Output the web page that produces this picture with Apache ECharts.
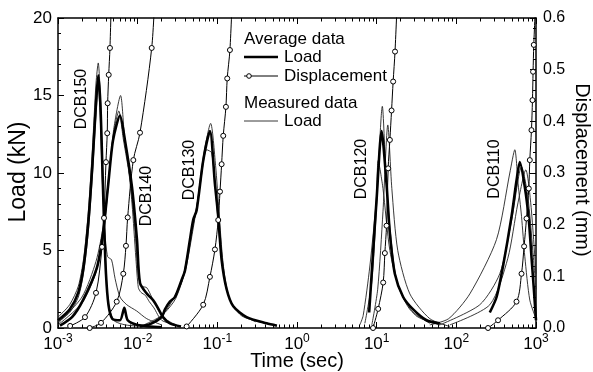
<!DOCTYPE html>
<html><head><meta charset="utf-8">
<script src="https://cdn.jsdelivr.net/npm/echarts@6/dist/echarts.min.js"></script>
<style>html,body{margin:0;padding:0;background:#fff}#c{width:593px;height:372px}</style>
</head><body><div id="c"></div>
<script>
// ---- tick values / labels ----
const xMajorTicks = [0.001, 0.01, 0.1, 1, 10, 100, 1000];
const xMinorMultipliers = [2, 3, 4, 5, 6, 7, 8, 9];
const loadTicks = [0, 5, 10, 15, 20];
const dispTicks = [0, 0.1, 0.2, 0.3, 0.4, 0.5, 0.6];
const specimenNames = ['DCB150', 'DCB140', 'DCB130', 'DCB120', 'DCB110'];

// ---- DCB150 ----  [time (sec), value]
const dcb150AvgLoad = [[0.001,0.5],[0.0014,1.2],[0.0018,2.3],[0.0021,4.0],[0.0024,6.8],[0.0027,10.5],[0.003,14.5],[0.0032,16.3],[0.0034,14.5],[0.0036,10.5],[0.0038,6.5],[0.004,3.5],[0.0043,1.5],[0.0048,0.6],[0.006,0.5],[0.0068,1.3],[0.0075,0.5],[0.01,0.2],[0.02,0.05]];
const dcb150MeasLoad1 = [[0.001,0.7],[0.0014,1.5],[0.0018,2.7],[0.0021,4.5],[0.0024,7.5],[0.0027,11.5],[0.003,15.8],[0.0032,17.1],[0.0034,15.0],[0.0036,11.0],[0.0038,6.8],[0.004,3.8],[0.0043,1.6],[0.005,0.5],[0.007,0.2],[0.012,0.1]];
const dcb150MeasLoad2 = [[0.001,0.4],[0.0014,1.0],[0.0018,2.0],[0.0021,3.6],[0.0024,6.2],[0.0027,9.8],[0.003,13.8],[0.0032,15.6],[0.0034,13.5],[0.0036,9.5],[0.0039,6.0],[0.0042,4.6],[0.0047,4.4],[0.0052,3.2],[0.006,2.0],[0.0073,1.5],[0.0097,1.1],[0.013,0.6],[0.02,0.2]];
const dcb150Disp = [[0.00142,0.004],[0.00218,0.021],[0.003,0.068],[0.00357,0.157],[0.00378,0.213],[0.004,0.321],[0.00415,0.377],[0.0042,0.435],[0.00433,0.49],[0.00449,0.542],[0.0047,0.65]];

// ---- DCB140 ----
const dcb140AvgLoad = [[0.00106,0.15],[0.0015,0.7],[0.00206,1.8],[0.00308,3.9],[0.00367,6.1],[0.00424,9.1],[0.0049,12.1],[0.006,13.7],[0.00693,12.1],[0.00848,9.1],[0.0098,5.7],[0.0107,2.9],[0.0131,2.2],[0.0156,1.8],[0.0175,1.4],[0.0208,0.7],[0.0254,0.3],[0.035,0.1]];
const dcb140MeasLoad1 = [[0.001,0.2],[0.002,1.6],[0.003,3.6],[0.0037,6.0],[0.0043,9.3],[0.005,12.8],[0.0061,15.0],[0.0068,12.5],[0.0075,10.8],[0.0085,8.0],[0.0095,4.5],[0.0102,2.6],[0.011,2.3],[0.0125,2.1],[0.014,1.7],[0.016,1.3],[0.02,0.5],[0.03,0.2]];
const dcb140MeasLoad2 = [[0.001,0.3],[0.002,2.0],[0.003,4.3],[0.0037,6.6],[0.0043,9.6],[0.005,12.6],[0.0058,14.0],[0.0066,12.2],[0.008,9.6],[0.0092,6.5],[0.0102,3.4],[0.0112,2.7],[0.013,2.6],[0.015,2.0],[0.018,1.2],[0.022,0.6],[0.03,0.2]];
const dcb140Disp = [[0.0025,0.0],[0.00347,0.01],[0.00546,0.051],[0.0066,0.105],[0.00713,0.159],[0.00749,0.214],[0.00882,0.325],[0.0107,0.378],[0.015,0.542],[0.0165,0.65]];

// ---- DCB130 ----
const dcb130AvgLoad = [[0.0107,0.1],[0.0143,0.25],[0.02,0.7],[0.022,1.2],[0.0254,1.7],[0.0294,2.0],[0.0356,3.1],[0.0392,3.7],[0.0453,5.7],[0.0499,7.0],[0.055,7.6],[0.0665,10.8],[0.0807,12.7],[0.0933,9.3],[0.1026,7.2],[0.1132,4.4],[0.1309,2.5],[0.1585,1.4],[0.233,0.7],[0.416,0.3],[0.56,0.15]];
const dcb130MeasLoad1 = [[0.012,0.2],[0.02,0.8],[0.0254,1.5],[0.03,2.2],[0.036,3.0],[0.045,5.5],[0.055,7.8],[0.0665,11.0],[0.0824,13.2],[0.095,10.5],[0.105,7.5],[0.118,4.2],[0.14,2.0],[0.2,0.8],[0.4,0.3],[0.55,0.2]];
const dcb130MeasLoad2 = [[0.015,0.3],[0.022,1.0],[0.03,1.9],[0.04,3.8],[0.05,6.5],[0.06,9.0],[0.0735,11.5],[0.085,11.3],[0.098,8.0],[0.11,5.0],[0.13,2.5],[0.17,1.2],[0.3,0.4]];
const dcb130Disp = [[0.0412,0.003],[0.0665,0.045],[0.0807,0.099],[0.0933,0.152],[0.1026,0.209],[0.108,0.264],[0.1132,0.317],[0.1186,0.372],[0.1282,0.428],[0.1331,0.483],[0.1439,0.538],[0.155,0.65]];

// ---- DCB120 ----
const dcb120AvgLoad = [[8.05,1.0],[9.04,5.0],[9.98,8.3],[11.53,12.7],[13.3,9.3],[14.65,6.1],[16.9,3.5],[21.5,2.0],[28.7,1.2],[42.3,0.5],[62.1,0.3]];
const dcb120MeasLoad1 = [[7.11,0.3],[8.71,3.0],[10.0,8.0],[11.78,14.3],[13.04,10.0],[14.65,6.5],[17.92,3.0],[26.1,1.2],[46.5,0.3]];
const dcb120MeasLoad2 = [[6.15,0.2],[6.77,0.8],[8.22,4.0],[9.9,8.3],[10.44,10.8],[12.0,9.0],[14.65,5.0],[19.5,2.5],[31,0.8],[62,0.2]];
const dcb120MeasLoad3 = [[8.7,0.2],[10.3,2.5],[12.0,7.5],[13.8,13.1],[15.5,9.0],[18.4,5.0],[26.1,2.2],[46.5,0.6],[82.8,0.1]];
const dcb120Disp = [[9.0,0.0],[10.44,0.037],[12.07,0.088],[12.67,0.145],[13.3,0.198],[13.94,0.309],[14.65,0.364],[15.38,0.421],[16.1,0.477],[17.0,0.535],[18.3,0.65]];

// ---- DCB110 ----
const dcb110AvgLoad = [[263,1.0],[320,2.0],[386,4.0],[493,7.2],[569,9.5],[626,10.7],[724,9.1],[812,7.0],[880,4.5],[940,2.5],[1000,0.5]];
const dcb110MeasLoad1 = [[46.4,0.2],[80,0.6],[147.6,2.2],[319,5.7],[469,10.0],[542,11.5],[596,9.3],[658,7.2],[724,4.6],[836,1.8],[1000,0.6]];
const dcb110MeasLoad2 = [[62,0.2],[197,1.5],[351,3.5],[497,7.0],[658,10.4],[789,8.5],[912,5.0],[1000,2.5]];
const dcb110MeasLoad3 = [[82.8,0.2],[263,1.5],[443,4.5],[590,8.0],[745,10.2],[861,8.0],[1000,3.5]];
const dcb110Disp = [[250,0.0],[334,0.015],[569,0.051],[658,0.105],[709,0.158],[760,0.212],[812,0.27],[836,0.325],[877,0.383],[903,0.441],[919,0.496],[938,0.548],[1000,0.65]];

// ---- build ----
const FONT = 'Liberation Sans, Arial, sans-serif';
const xMinorTicks = [];
for (let i = 0; i < xMajorTicks.length - 1; i++) xMinorMultipliers.forEach(m => xMinorTicks.push(+(m * xMajorTicks[i]).toPrecision(3)));

const avgStyle = {color:'#000', width:2.6};
const measStyle = {color:'#222', width:0.9};
const dispStyle = {color:'#000', width:1};

function avg(data){ return {type:'line', data, xAxisIndex:0, yAxisIndex:0, showSymbol:false, smooth:0.25, lineStyle:avgStyle, z:4, silent:true}; }
function meas(data){ return {type:'line', data, xAxisIndex:0, yAxisIndex:0, showSymbol:false, smooth:0.25, lineStyle:measStyle, z:3, silent:true}; }
function disp(data){ return {type:'line', data, xAxisIndex:0, yAxisIndex:1, symbol:'circle', symbolSize:5, smooth:0.3,
  itemStyle:{color:'#fff', borderColor:'#000', borderWidth:1}, lineStyle:dispStyle, z:5, silent:true}; }

const series = [
  meas(dcb150MeasLoad1), meas(dcb150MeasLoad2), avg(dcb150AvgLoad), disp(dcb150Disp),
  meas(dcb140MeasLoad1), meas(dcb140MeasLoad2), avg(dcb140AvgLoad), disp(dcb140Disp),
  meas(dcb130MeasLoad1), meas(dcb130MeasLoad2), avg(dcb130AvgLoad), disp(dcb130Disp),
  meas(dcb120MeasLoad1), meas(dcb120MeasLoad2), meas(dcb120MeasLoad3), avg(dcb120AvgLoad), disp(dcb120Disp),
  meas(dcb110MeasLoad1), meas(dcb110MeasLoad2), meas(dcb110MeasLoad3), avg(dcb110AvgLoad), disp(dcb110Disp)
];

function xAxisDef(pos, minor, labels){
  return {
    type:'log', logBase:10, min:0.001, max:1000, splitNumber:6, position:pos,
    axisLine:{show:!minor, lineStyle:{color:'#000', width:1.5}},
    axisTick:{show:true, inside:true, length: minor ? 3.5 : 6, lineStyle:{color:'#000', width:1},
      customValues: minor ? xMinorTicks : xMajorTicks},
    axisLabel:{show:labels, margin:5, customValues: xMajorTicks,
      formatter: v => '{b|10}{s|' + Math.round(Math.log10(v)) + '}',
      rich:{ b:{fontSize:17, fontFamily:FONT, color:'#000'},
             s:{fontSize:12, fontFamily:FONT, color:'#000', verticalAlign:'bottom', padding:[0,0,10,0]} } },
    splitLine:{show:false}, minorTick:{show:false}
  };
}

const labelPos = [[82,99],[147,196],[190,170],[362,169],[495,169]];
const graphic = [];
specimenNames.forEach((n,i) => graphic.push({type:'text', x:labelPos[i][0], y:labelPos[i][1], rotation:Math.PI/2,
  style:{text:n, font:'16px '+FONT, fill:'#000', textAlign:'center', textVerticalAlign:'middle'}}));
// axis titles
graphic.push({type:'text', x:19, y:172, rotation:Math.PI/2, style:{text:'Load (kN)', font:'23px '+FONT, fill:'#000', textAlign:'center', textVerticalAlign:'middle'}});
graphic.push({type:'text', x:582, y:170, rotation:-Math.PI/2, style:{text:'Displacement (mm)', font:'20px '+FONT, fill:'#000', textAlign:'center', textVerticalAlign:'middle'}});
graphic.push({type:'text', x:297, y:361, style:{text:'Time (sec)', font:'20px '+FONT, fill:'#000', textAlign:'center', textVerticalAlign:'middle'}});
// legend
const lx = 244, tx = 284;
graphic.push({type:'text', x:lx, y:39, style:{text:'Average data', font:'17px '+FONT, fill:'#000', textVerticalAlign:'middle'}});
graphic.push({type:'line', shape:{x1:lx, y1:57, x2:lx+34, y2:57}, style:{stroke:'#000', lineWidth:2.6}});
graphic.push({type:'text', x:tx, y:57, style:{text:'Load', font:'17px '+FONT, fill:'#000', textVerticalAlign:'middle'}});
graphic.push({type:'line', shape:{x1:lx, y1:76, x2:lx+34, y2:76}, style:{stroke:'#000', lineWidth:1}});
graphic.push({type:'circle', shape:{cx:lx+5, cy:76, r:2.3}, style:{fill:'#fff', stroke:'#000', lineWidth:1}});
graphic.push({type:'text', x:tx, y:76, style:{text:'Displacement', font:'17px '+FONT, fill:'#000', textVerticalAlign:'middle'}});
graphic.push({type:'text', x:lx, y:103, style:{text:'Measured data', font:'17px '+FONT, fill:'#000', textVerticalAlign:'middle'}});
graphic.push({type:'line', shape:{x1:lx, y1:121, x2:lx+34, y2:121}, style:{stroke:'#222', lineWidth:0.9}});
graphic.push({type:'text', x:tx, y:121, style:{text:'Load', font:'17px '+FONT, fill:'#000', textVerticalAlign:'middle'}});

const chart = echarts.init(document.getElementById('c'), null, {renderer:'canvas'});
chart.setOption({
  animation:false,
  backgroundColor:'#fff',
  grid:{left:58, right:57, top:18, bottom:44, containLabel:false},
  xAxis:[ xAxisDef('bottom', false, true), xAxisDef('bottom', true, false), xAxisDef('top', false, false), xAxisDef('top', true, false) ],
  yAxis:[
    {type:'value', min:0, max:20, interval:5, position:'left',
      axisLine:{show:true, lineStyle:{color:'#000', width:1.5}},
      axisTick:{show:true, inside:true, length:6, lineStyle:{color:'#000'}},
      minorTick:{show:true, splitNumber:5, length:3, lineStyle:{color:'#000'}},
      axisLabel:{margin:6, fontSize:17, fontFamily:FONT, color:'#000'},
      splitLine:{show:false}},
    {type:'value', min:0, max:0.6, interval:0.1, position:'right',
      axisLine:{show:true, lineStyle:{color:'#000', width:1.5}},
      axisTick:{show:true, inside:true, length:6, lineStyle:{color:'#000'}},
      minorTick:{show:true, splitNumber:5, length:3, lineStyle:{color:'#000'}},
      axisLabel:{margin:7, fontSize:16, fontFamily:FONT, color:'#000', formatter: v => v.toFixed(1)},
      splitLine:{show:false}}
  ],
  series,
  graphic
});
</script></body></html>
